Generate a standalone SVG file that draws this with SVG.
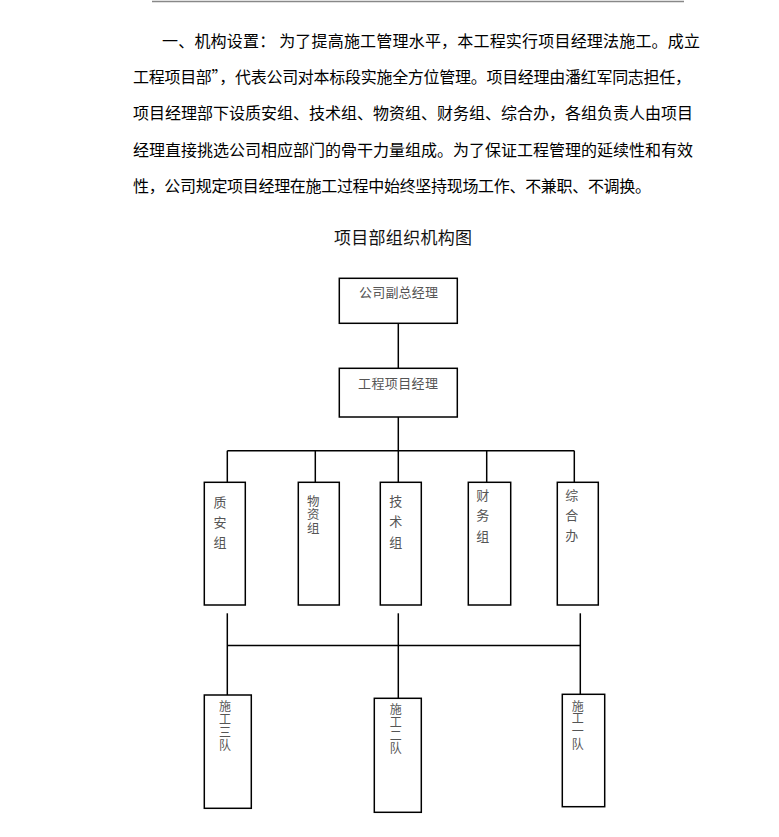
<svg xmlns="http://www.w3.org/2000/svg" width="779" height="837" viewBox="0 0 779 837">
<style>
.para{font-family:"Noto Sans CJK SC","Noto Sans CJK TC",sans-serif;font-size:16px;fill:#000;}
.title{font-family:"Noto Sans CJK SC",sans-serif;font-size:17px;fill:#111;}
.box{fill:#fff;stroke:#000;stroke-width:1.5;}
.lbl{font-family:"Noto Sans CJK SC",sans-serif;font-size:13px;fill:#555;}
.v{font-family:"Noto Sans CJK SC",sans-serif;fill:#555;writing-mode:vertical-rl;text-orientation:upright;}
.vl{font-size:13px;}
.vm{font-size:12.5px;letter-spacing:1px;}
.vs{font-size:12px;letter-spacing:0.8px;}
.conn{fill:none;stroke:#000;stroke-width:1.5;}
</style>
<rect width="779" height="837" fill="#fff"/>
<line x1="152" y1="1.5" x2="684" y2="1.5" stroke="#888" stroke-width="1.5"/>
<g id="paragraph">
<text class="para" x="162" y="47" textLength="538" lengthAdjust="spacing">一、机构设置： 为了提高施工管理水平，本工程实行项目经理法施工。成立</text>
<text class="para" x="133" y="83" textLength="558" lengthAdjust="spacing">工程项目部”，代表公司对本标段实施全方位管理。项目经理由潘红军同志担任，</text>
<text class="para" x="133" y="119" textLength="560" lengthAdjust="spacing">项目经理部下设质安组、技术组、物资组、财务组、综合办，各组负责人由项目</text>
<text class="para" x="133" y="155.5" textLength="560" lengthAdjust="spacing">经理直接挑选公司相应部门的骨干力量组成。为了保证工程管理的延续性和有效</text>
<text class="para" x="133" y="192" textLength="518" lengthAdjust="spacing">性，公司规定项目经理在施工过程中始终坚持现场工作、不兼职、不调换。</text>
</g>
<text class="title" x="334" y="243.5" textLength="138" lengthAdjust="spacing">项目部组织机构图</text>
<g id="connectors">
<line class="conn" x1="398.3" y1="323.3" x2="398.3" y2="368.3"/>
<line class="conn" x1="398.3" y1="417" x2="398.3" y2="450.7"/>
<line class="conn" x1="227.3" y1="450.7" x2="574.3" y2="450.7"/>
<line class="conn" x1="227.3" y1="450.7" x2="227.3" y2="482.3"/>
<line class="conn" x1="315.3" y1="450.7" x2="315.3" y2="482.3"/>
<line class="conn" x1="398.3" y1="450.7" x2="398.3" y2="482.3"/>
<line class="conn" x1="486.7" y1="450.7" x2="486.7" y2="482.3"/>
<line class="conn" x1="574.3" y1="450.7" x2="574.3" y2="482.3"/>
<line class="conn" x1="227.3" y1="645.5" x2="580.3" y2="645.5"/>
<line class="conn" x1="227.3" y1="613.3" x2="227.3" y2="695"/>
<line class="conn" x1="398.3" y1="613.3" x2="398.3" y2="698.3"/>
<line class="conn" x1="580.3" y1="613.3" x2="580.3" y2="694.3"/>
</g>
<g id="n-fuzongjingli">
<rect class="box" x="339.3" y="278.3" width="118" height="45"/>
<text class="lbl" x="359" y="297" textLength="79" lengthAdjust="spacing">公司副总经理</text>
</g>
<g id="n-xiangmujingli">
<rect class="box" x="339.3" y="368.3" width="118" height="48.7"/>
<text class="lbl" x="358" y="388" textLength="80" lengthAdjust="spacing">工程项目经理</text>
</g>
<g id="n-zhianzu">
<rect class="box" x="204.3" y="482.3" width="41" height="122.7"/>
<text class="v vl" x="220" y="495.2" style="letter-spacing:7.2px">质安组</text>
</g>
<g id="n-wuzizu">
<rect class="box" x="298.3" y="482.3" width="41" height="122.7"/>
<text class="v vm" x="313.3" y="494.8">物资组</text>
</g>
<g id="n-jishuzu">
<rect class="box" x="380.3" y="482.3" width="41" height="122.7"/>
<text class="v vl" x="395.7" y="494.2" style="letter-spacing:7.5px">技术组</text>
</g>
<g id="n-caiwuzu">
<rect class="box" x="468.3" y="482.3" width="42.4" height="122.7"/>
<text class="v vl" x="482.7" y="488.5" style="letter-spacing:7.3px">财务组</text>
</g>
<g id="n-zongheban">
<rect class="box" x="557.3" y="482.3" width="41" height="122.7"/>
<text class="v vl" x="571.7" y="488.5" style="letter-spacing:7px">综合办</text>
</g>
<g id="n-sandui">
<rect class="box" x="204.3" y="695" width="47" height="113.3"/>
<text class="v vs" x="225" y="700.7">施工三队</text>
</g>
<g id="n-erdui">
<rect class="box" x="374.3" y="698.3" width="47" height="114"/>
<text class="v vs" x="395.7" y="703" style="letter-spacing:1px">施工二队</text>
</g>
<g id="n-yidui">
<rect class="box" x="562.3" y="694.3" width="42.4" height="112.4"/>
<text class="v vs" x="577.7" y="700" style="letter-spacing:0.7px">施工一队</text>
</g>
</svg>
